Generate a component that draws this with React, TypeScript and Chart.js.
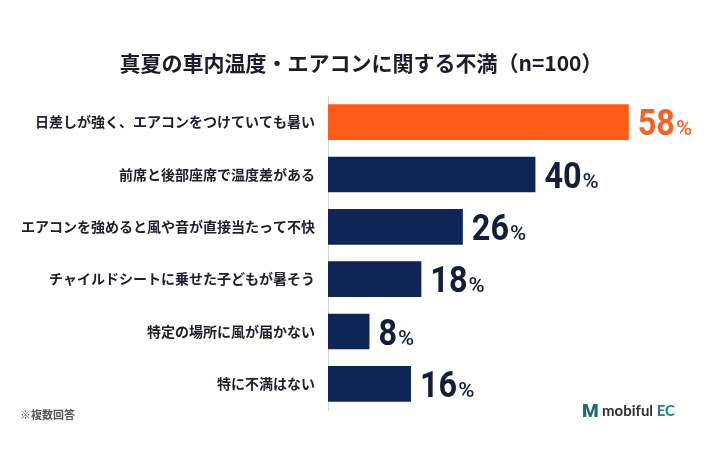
import React, { useEffect, useRef } from "react";
import { Chart, registerables } from "chart.js";

Chart.register(...registerables);

const titleText = "真夏の車内温度・エアコンに関する不満（n=100）";
const categories = [
  "日差しが強く、エアコンをつけていても暑い",
  "前席と後部座席で温度差がある",
  "エアコンを強めると風や音が直接当たって不快",
  "チャイルドシートに乗せた子どもが暑そう",
  "特定の場所に風が届かない",
  "特に不満はない",
];
const values = [58, 40, 26, 18, 8, 16];
const barColors = ["#FF5A1A", "#0F2556", "#0F2556", "#0F2556", "#0F2556", "#0F2556"];
const valueColors = ["#F4622A", "#161D3A", "#161D3A", "#161D3A", "#161D3A", "#161D3A"];
const footnoteText = "※複数回答";
const logoMark = "M";
const logoName = "mobiful";
const logoSuffix = "EC";

const JP = "'Noto Sans CJK JP', 'Noto Sans', sans-serif";
const NUM = "Roboto, sans-serif";

const decorPlugin = {
  id: "decor",
  afterDatasetsDraw(chart: any) {
    const ctx = chart.ctx;
    const meta = chart.getDatasetMeta(0);
    ctx.save();
    ctx.textBaseline = "alphabetic";
    ctx.textAlign = "left";
    meta.data.forEach((bar: any, i: number) => {
      const x = bar.x + 9;
      const y = bar.y + 13;
      const sx = 0.9;
      ctx.fillStyle = valueColors[i];
      ctx.font = `bold 36px ${NUM}`;
      const num = String(values[i]);
      ctx.save();
      ctx.translate(x, y);
      ctx.scale(sx, 1);
      ctx.fillText(num, 0, 0);
      ctx.restore();
      const w = ctx.measureText(num).width * sx;
      ctx.font = `500 20px ${NUM}`;
      ctx.save();
      ctx.translate(x + w + 1, y);
      ctx.scale(1.1, 1);
      ctx.fillText("%", 0, 0);
      ctx.restore();
    });
    ctx.restore();
  },
  afterDraw(chart: any) {
    const ctx = chart.ctx;
    ctx.save();
    // title
    ctx.fillStyle = "#1C1C2A";
    ctx.font = `bold 21px ${JP}`;
    ctx.textAlign = "center";
    ctx.textBaseline = "middle";
    ctx.fillText(titleText, 361, 63);
    // footnote
    ctx.fillStyle = "#555555";
    ctx.font = `bold 11px ${JP}`;
    ctx.textAlign = "left";
    ctx.fillText(footnoteText, 20, 415);
    // logo
    ctx.fillStyle = "#1B6F73";
    ctx.font = `900 19px Roboto, sans-serif`;
    ctx.fillText(logoMark, 582, 412);
    ctx.fillStyle = "#2E2E33";
    ctx.font = `bold 15px Lato, Roboto, sans-serif`;
    ctx.fillText(logoName, 602, 411);
    const w = ctx.measureText(logoName + " ").width;
    ctx.fillStyle = "#1E7F86";
    ctx.fillText(logoSuffix, 602 + w, 411);
    ctx.restore();
  },
};

export default function App() {
  const ref = useRef<HTMLCanvasElement>(null);
  useEffect(() => {
    document.body.style.margin = "0";
    const canvas = ref.current;
    if (!canvas) return;
    const chart = new Chart(canvas, {
      type: "bar",
      data: {
        labels: categories,
        datasets: [
          {
            data: values,
            backgroundColor: barColors,
            borderWidth: 0,
            barPercentage: 0.68,
            categoryPercentage: 1,
          },
        ],
      },
      options: {
        indexAxis: "y",
        animation: false,
        responsive: false,
        layout: { padding: { top: 96, bottom: 64, left: 0, right: 19 } },
        plugins: {
          legend: { display: false },
          tooltip: { enabled: false },
          title: { display: false },
        },
        scales: {
          x: { display: false, min: 0, max: 70 },
          y: {
            afterFit(scale: any) {
              scale.width = 328;
            },
            grid: { display: false, drawTicks: false },
            border: { display: true, color: "#D4D4D8", width: 1 },
            ticks: {
              padding: 13,
              color: "#1E1E2C",
              font: { family: JP, size: 14, weight: "bold" },
            },
          },
        },
      },
      plugins: [decorPlugin],
    });
    return () => chart.destroy();
  }, []);
  return (
    <div style={{ width: 710, height: 474, background: "#FFFFFF" }}>
      <canvas ref={ref} width={710} height={474} style={{ display: "block" }} />
    </div>
  );
}
